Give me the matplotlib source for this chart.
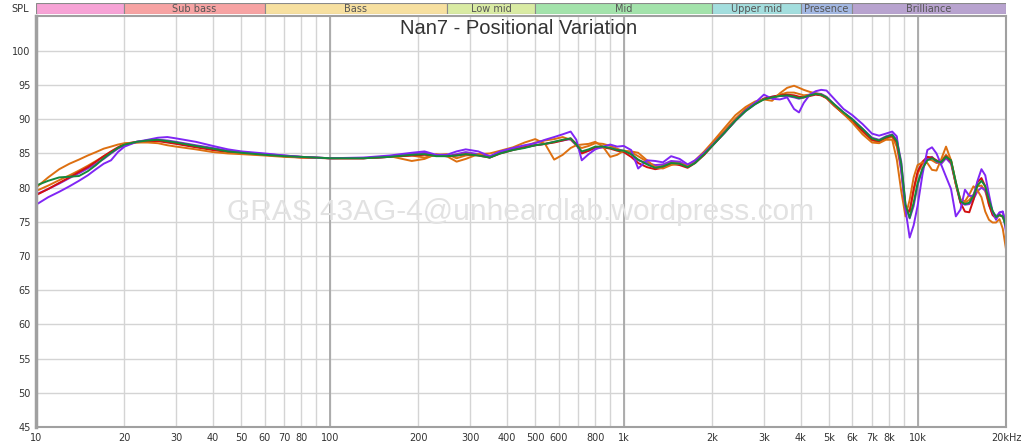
import matplotlib
matplotlib.use("Agg")
import matplotlib.pyplot as plt

# ---------------- data ----------------
freqs = [10, 11, 12, 13, 14, 15, 16, 17, 18, 19,
         20, 22, 24, 26, 28, 30, 35, 40, 45, 50,
         60, 70, 80, 100, 130, 160, 190, 210, 230, 250,
         270, 290, 320, 350, 380, 420, 460, 500, 540, 580,
         620, 660, 690, 720, 760, 800, 850, 900, 950, 1000,
         1060, 1120, 1200, 1280, 1360, 1450, 1550, 1650, 1750, 1880,
         2000, 2200, 2400, 2600, 2800, 3000, 3200, 3400, 3600, 3800,
         3950, 4100, 4300, 4500, 4700, 4900, 5200, 5600, 6000, 6500,
         7000, 7400, 7800, 8200, 8500, 8800, 9100, 9400, 9700, 10000,
         10400, 10800, 11200, 11600, 12000, 12500, 13000, 13500, 14000, 14500,
         15000, 15500, 16000, 16500, 17000, 17500, 18000, 18500, 19000, 19500, 20000]

green = [80.3, 81.0, 81.5, 81.6, 81.7, 82.4, 83.3, 84.3, 85.1, 85.8,
         86.3, 86.7, 86.9, 87.0, 86.8, 86.6, 86.1, 85.7, 85.3, 85.1,
         84.8, 84.6, 84.5, 84.3, 84.3, 84.5, 84.8, 84.9, 84.6, 84.6,
         84.7, 84.9, 84.7, 84.4, 85.0, 85.5, 85.8, 86.2, 86.4, 86.7,
         87.0, 87.2, 86.3, 85.3, 85.6, 86.0, 86.0, 85.8, 85.5, 85.4,
         84.9, 84.1, 83.4, 82.9, 83.1, 83.6, 83.5, 83.0, 83.6, 84.9,
         86.1, 88.0, 89.8, 91.2, 92.2, 92.9, 93.2, 93.4, 93.5, 93.3,
         93.1, 93.2, 93.5, 93.7, 93.6, 93.2, 92.2, 91.0, 90.0, 88.6,
         87.2, 86.9, 87.4, 87.7, 86.8, 83.5, 77.5, 75.6, 77.8, 80.6,
         82.8, 84.0, 84.3, 83.9, 83.7, 84.5, 84.0, 80.8, 78.0, 77.6,
         77.8, 78.8, 80.3, 81.0, 80.2, 78.2, 76.6, 75.7, 76.0, 75.8, 74.3]

red = [78.9, 79.8, 80.7, 81.5, 82.3, 83.0, 83.8, 84.6, 85.3, 85.9,
       86.4, 86.7, 86.8, 86.8, 86.6, 86.4, 85.9, 85.5, 85.2, 85.0,
       84.8, 84.6, 84.4, 84.3, 84.3, 84.5, 84.7, 84.8, 84.7, 84.6,
       84.7, 84.9, 84.7, 84.4, 85.0, 85.5, 85.9, 86.2, 86.4, 86.6,
       86.9, 87.2, 86.4, 85.0, 85.4, 85.9, 85.9, 85.7, 85.4, 85.2,
       84.5, 83.6, 83.0, 82.7, 82.9, 83.5, 83.3, 82.9, 83.6, 84.8,
       86.1, 88.0, 89.8, 91.3, 92.3, 93.0, 93.3, 93.5, 93.6, 93.5,
       93.3, 93.2, 93.4, 93.6, 93.5, 93.1, 92.0, 90.8, 89.7, 88.3,
       87.0, 86.8, 87.3, 87.6, 86.6, 83.0, 77.0, 76.5, 79.8, 82.3,
       83.8, 84.5, 84.4, 84.0, 83.7, 84.6, 83.8, 80.5, 77.8, 76.5,
       76.4, 78.2, 80.8, 81.4, 80.2, 77.5, 76.0, 75.5, 76.0, 75.8, 74.8]

orange_a = [80.0, 81.5, 82.7, 83.5, 84.1, 84.7, 85.2, 85.7, 86.0, 86.3,
            86.5, 86.6, 86.6, 86.5, 86.2, 86.0, 85.6, 85.2, 85.0, 84.9,
            84.7, 84.5, 84.4, 84.3, 84.3, 84.6, 83.9, 84.2, 84.9, 84.6,
            83.8, 84.2, 84.9, 85.0, 85.4, 85.9, 86.6, 87.1, 86.4, 84.1,
            84.8, 85.8, 86.2, 86.3, 86.4, 86.7, 86.0, 84.5, 84.8, 85.4,
            85.3, 85.1, 84.0, 83.0, 82.8, 83.3, 83.5, 83.2, 84.0, 85.3,
            86.6, 88.7, 90.6, 91.8, 92.6, 92.9, 92.7, 93.8, 94.6, 94.9,
            94.6, 94.3, 94.0, 93.8, 93.6, 93.2, 92.1, 90.8, 89.5, 87.8,
            86.6, 86.5, 87.0, 87.0, 84.1, 79.5, 75.8, 78.2, 81.5, 83.3,
            83.7, 83.6, 82.6, 82.5, 84.0, 86.0, 84.0, 80.5, 78.3, 78.0,
            79.0, 80.2, 79.6, 78.6, 76.5, 75.3, 74.9, 74.9, 75.4, 74.0, 71.0]

orange_b = [79.5, 80.3, 81.1, 81.8, 82.5, 83.2, 83.9, 84.6, 85.2, 85.8,
            86.3, 86.6, 86.8, 86.9, 86.8, 86.5, 86.0, 85.6, 85.3, 85.1,
            84.8, 84.6, 84.5, 84.3, 84.3, 84.5, 84.7, 84.4, 84.8, 84.9,
            84.3, 84.7, 84.9, 84.5, 85.1, 85.6, 86.0, 86.6, 86.9, 87.1,
            87.4, 87.0, 86.2, 85.8, 86.1, 86.5, 86.4, 86.1, 85.7, 85.3,
            85.2, 84.6, 83.8, 83.0, 83.2, 83.7, 83.6, 83.1, 83.8, 85.1,
            86.4, 88.3, 90.1, 91.5, 92.4, 93.0, 93.2, 93.6, 93.9, 93.9,
            93.7, 93.5, 93.6, 93.7, 93.5, 93.1, 92.0, 90.8, 89.7, 88.2,
            86.9, 86.7, 87.2, 87.4, 86.0, 82.5, 76.8, 76.5, 79.5, 82.0,
            83.5, 84.2, 84.0, 83.6, 83.8, 84.8, 84.0, 80.8, 78.0, 77.8,
            78.2, 79.0, 80.2, 80.3, 79.5, 77.5, 76.2, 75.7, 76.0, 75.7, 74.5]

purple_a = [77.5, 78.6, 79.4, 80.2, 81.0, 81.8, 82.7, 83.5, 84.0, 85.2,
            86.0, 86.7, 87.0, 87.3, 87.4, 87.2, 86.7, 86.1, 85.6, 85.3,
            85.0, 84.7, 84.5, 84.3, 84.4, 84.7, 85.1, 85.3, 84.8, 84.8,
            85.3, 85.6, 85.3, 84.6, 85.3, 85.8, 86.2, 86.5, 87.0, 87.4,
            87.8, 88.2, 87.0, 84.0, 84.9, 85.6, 86.0, 86.3, 86.0, 86.1,
            85.5, 82.8, 84.0, 83.9, 83.7, 84.6, 84.2, 83.4, 84.0, 85.1,
            86.2, 88.0, 89.8, 91.3, 92.4, 93.6, 93.0, 92.9, 93.2, 91.5,
            91.0, 92.4, 93.6, 94.1, 94.3, 94.2, 93.0, 91.5, 90.6, 89.3,
            87.9, 87.6, 87.9, 88.2, 87.5, 82.5, 76.8, 72.7, 74.5, 77.3,
            82.0, 85.5, 85.9, 85.0, 83.5, 81.6, 79.8, 75.8, 76.8, 79.7,
            78.8, 78.8, 81.0, 82.7, 81.8, 79.0, 76.5, 75.3, 76.4, 76.5, 73.5]

purple_b = [79.0, 79.8, 80.6, 81.4, 82.1, 82.8, 83.5, 84.2, 85.0, 85.7,
            86.2, 86.7, 86.9, 87.0, 86.9, 86.7, 86.2, 85.8, 85.4, 85.2,
            84.9, 84.7, 84.5, 84.3, 84.3, 84.5, 84.9, 85.1, 84.7, 84.6,
            84.9, 85.2, 84.9, 84.4, 85.1, 85.6, 85.9, 86.2, 86.4, 86.7,
            86.9, 87.1, 86.2, 85.1, 85.4, 85.8, 85.9, 85.8, 85.5, 85.4,
            84.9, 84.0, 83.6, 83.3, 83.4, 83.9, 83.8, 83.2, 83.7, 84.9,
            86.1, 88.0, 89.8, 91.2, 92.2, 93.0, 93.3, 93.4, 93.4, 93.2,
            93.0, 93.2, 93.6, 93.8, 93.7, 93.3, 92.2, 91.0, 90.0, 88.6,
            87.3, 87.0, 87.5, 87.8, 87.0, 83.8, 77.5, 75.5, 77.3, 80.3,
            82.8, 84.2, 84.5, 83.8, 83.4, 84.3, 83.5, 80.5, 77.8, 77.5,
            77.6, 78.3, 79.5, 80.0, 79.6, 78.0, 76.5, 75.8, 76.3, 76.5, 74.8]

band_edges = [10, 20, 60, 250, 500, 2000, 4000, 6000, 20000]
band_names = ["", "Sub bass", "Bass", "Low mid", "Mid", "Upper mid", "Presence", "Brilliance"]
band_colors = ["#f7a3d6", "#f7a3a3", "#f7e0a0", "#d9eba3", "#a3e3ab", "#a3dede", "#a3b8e3", "#b8a3cf"]

grid_freqs = ([10, 20, 30, 40, 50, 60, 70, 80, 90, 100, 200, 300, 400, 500, 600, 700, 800, 900,
               1000, 2000, 3000, 4000, 5000, 6000, 7000, 8000, 9000, 10000, 20000])
grid_labels = ["10", "20", "30", "40", "50", "60", "70", "80", "", "100", "200", "300", "400", "500",
               "600", "", "800", "", "1k", "2k", "3k", "4k", "5k", "6k", "7k", "8k", "", "10k", "20kHz"]
major_freqs = [100, 1000, 10000]
y_ticks = [45, 50, 55, 60, 65, 70, 75, 80, 85, 90, 95, 100]

# ---------------- figure ----------------
W, H = 1024, 448
fig = plt.figure(figsize=(W / 100, H / 100), dpi=100)
fig.patch.set_facecolor("white")

ax = fig.add_axes([36 / W, 21 / H, 970 / W, 411 / H])
ax.set_xscale("log")
ax.set_xlim(10, 20000)
ax.set_ylim(45, 105.1)

ax.set_xticks(grid_freqs)
ax.set_xticklabels(grid_labels)
ax.xaxis.set_minor_locator(matplotlib.ticker.NullLocator())
ax.set_yticks(y_ticks)
ax.set_yticklabels([str(v) for v in y_ticks])
ax.tick_params(axis="both", length=0, labelsize=7, colors="#333333")
ax.tick_params(axis="x", pad=4)
ax.tick_params(axis="y", pad=4)
ax.grid(True, color="#d4d4d4", linewidth=1.0)
ax.set_axisbelow(True)
for f in major_freqs:
    ax.axvline(f, color="#a8a8a8", linewidth=1.3, zorder=0.6)

for s in ax.spines.values():
    s.set_color("#a0a0a0")
    s.set_linewidth(1.5)
ax.spines["left"].set_linewidth(2.5)

# watermark
fig.text(521 / W, 1 - 212 / H, "GRAS 43AG-4@unheardlab.wordpress.com",
         ha="center", va="center", fontsize=21.5, color="#e2e2e2",
         family="Liberation Sans", zorder=0)

lw = 1.4
ax.plot(freqs, orange_b, color="#dd7011", lw=lw)
ax.plot(freqs, purple_b, color="#8a2be2", lw=lw)
ax.plot(freqs, red, color="#d21010", lw=lw)
ax.plot(freqs, orange_a, color="#dd7011", lw=lw)
ax.plot(freqs, purple_a, color="#8026f5", lw=lw)
ax.plot(freqs, green, color="#15893a", lw=lw)

# title
fig.text(519 / W, 1 - 28 / H, "Nan7 - Positional Variation", ha="center", va="center",
         fontsize=14.5, color="#333333", family="Liberation Sans")

# band bar
bax = fig.add_axes([36 / W, 1 - 14 / H, 970 / W, 11 / H])
bax.set_xscale("log")
bax.set_xlim(10, 20000)
bax.set_ylim(0, 1)
bax.axis("off")
for i, name in enumerate(band_names):
    lo, hi = band_edges[i], band_edges[i + 1]
    bax.axvspan(lo, hi, ymin=0, ymax=1, facecolor=band_colors[i], edgecolor="#8a8a8a", linewidth=0.8)
    if name:
        bax.text((lo * hi) ** 0.5, 0.45, name, ha="center", va="center", fontsize=7, color="#555555")

fig.text(20 / W, 1 - 8.5 / H, "SPL", ha="center", va="center", fontsize=7, color="#333333")

fig.savefig("out.png", dpi=100, facecolor="white")
